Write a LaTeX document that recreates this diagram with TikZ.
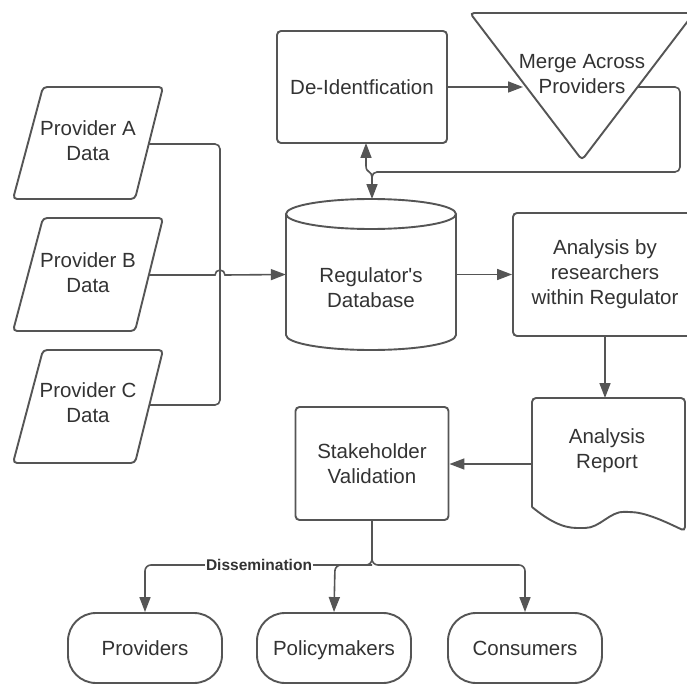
\documentclass[tikz,border=0pt]{standalone}
\usepackage{fontspec}
\setmainfont{Liberation Sans}
\usetikzlibrary{arrows.meta}
\definecolor{lc}{HTML}{555555}
\definecolor{tc}{HTML}{333333}
\newcommand\fs{\fontsize{20.5}{25}\selectfont}
\begin{document}
\begin{tikzpicture}[x=1pt,y=-1pt,
  shp/.style={draw=lc, line width=1.9pt, rounded corners=4pt},
  box/.style={shp, text=tc, align=center, font=\fs, inner sep=0pt},
  txt/.style={text=tc, align=center, font=\fs, inner sep=0pt},
  conn/.style={draw=lc, line width=1.6pt, -{Triangle[length=15pt,width=11pt]}},
  plain/.style={draw=lc, line width=1.6pt},
  term/.style={box, rounded corners=28pt, minimum width=154pt, minimum height=70pt, text height=15pt, text depth=0pt}
]
\useasboundingbox (0,0) rectangle (687,687);
\fill[white] (0,0) rectangle (687,687);
\clip (0,0) rectangle (687,687);

% top boxes
\node[box, minimum width=170pt, minimum height=112pt] (deid) at (362,87) {De-Identfication};
\draw[shp] (470,13) -- (694,13) -- (582,160) -- cycle;
\node[txt] (merge) at (582,74.5) {Merge Across\\Providers};
\coordinate (mergeL) at (523,87);
\coordinate (mergeR) at (638,87);
\coordinate (deidB) at (366,143);

% providers
\draw[shp] (43,87) -- (163,87) -- (135,199) -- (13,199) -- cycle;
\node[txt] (pa) at (88,140.5) {Provider A\\Data};
\draw[shp] (43,218) -- (163,218) -- (135,331) -- (13,331) -- cycle;
\node[txt] (pb) at (88,272.5) {Provider B\\Data};
\draw[shp] (43,350) -- (163,350) -- (135,463) -- (13,463) -- cycle;
\node[txt] (pc) at (88,402.5) {Provider C\\Data};
\coordinate (paR) at (149,144);
\coordinate (pbR) at (149,275);
\coordinate (pcR) at (149,405);

% database cylinder
\draw[shp, rounded corners=0pt] (286,214) -- (286,335) arc[start angle=180, end angle=0, x radius=85, y radius=15] -- (456,214);
\draw[shp, rounded corners=0pt] (371,214) ellipse [x radius=85, y radius=15];
\node[inner sep=0pt, minimum width=170pt, minimum height=151pt] (db) at (371,274.5) {};
\node[txt] (dbt) at (371,288) {Regulator\textquotesingle s\\Database};
\coordinate (dbtop) at (372,199);

% analysis
\node[box, minimum width=184pt, minimum height=123pt] (ana) at (605,274.5) {Analysis by\\researchers\\within Regulator};

% report
\draw[shp] (532,507) -- (532,398) -- (685,398) -- (685,531)
  .. controls (670,524) and (648,513) .. (629,512)
  .. controls (610,511) and (600,528) .. (581,528)
  .. controls (562,528) and (548,520) .. (532,507);
\node[txt] (rep) at (607,450.5) {Analysis\\Report};
\coordinate (repT) at (605,398);
\coordinate (repL) at (532,464);

% stakeholder
\node[box, minimum width=153pt, minimum height=113pt] (stk) at (372,463.5) {Stakeholder\\Validation};

% terminals
\node[term] (prov) at (145,648) {Providers};
\node[term] (pol) at (334,648) {Policymakers};
\node[term] (cons) at (525,648) {Consumers};

% connectors
\draw[conn] (deid.east) -- (mergeL);
\draw[conn, rounded corners=5pt] (mergeR) -- (680,87) -- (680,172) -- (372,172) -- (dbtop);
\draw[conn] (372,177) .. controls (372,171) and (366,173) .. (366,166) -- (deidB);
\draw[plain, rounded corners=5pt] (paR) -- (220,144) -- (220,405) -- (pcR);
\draw[conn] (pbR) -- (215,275) arc[start angle=180, end angle=360, radius=5] -- (db.west);
\draw[conn] (db.east) -- (ana.west);
\draw[conn] (ana.south -| repT) -- (repT);
\draw[conn] (repL) -- (stk.east |- repL);
\draw[conn, rounded corners=6pt] (stk.south) -- (372,565) -- (145,565) -- (prov.north);
\draw[conn, rounded corners=6pt] (stk.south) -- (372,565) -- (525,565) -- (cons.north);
\draw[conn, rounded corners=6pt] (372,565) -- (335,565) -- (pol.north);
\node[fill=white, text=tc, inner sep=1pt, font=\fontsize{15.5}{18}\selectfont\bfseries] (dis) at (259,565) {Dissemination};
\end{tikzpicture}
\end{document}
